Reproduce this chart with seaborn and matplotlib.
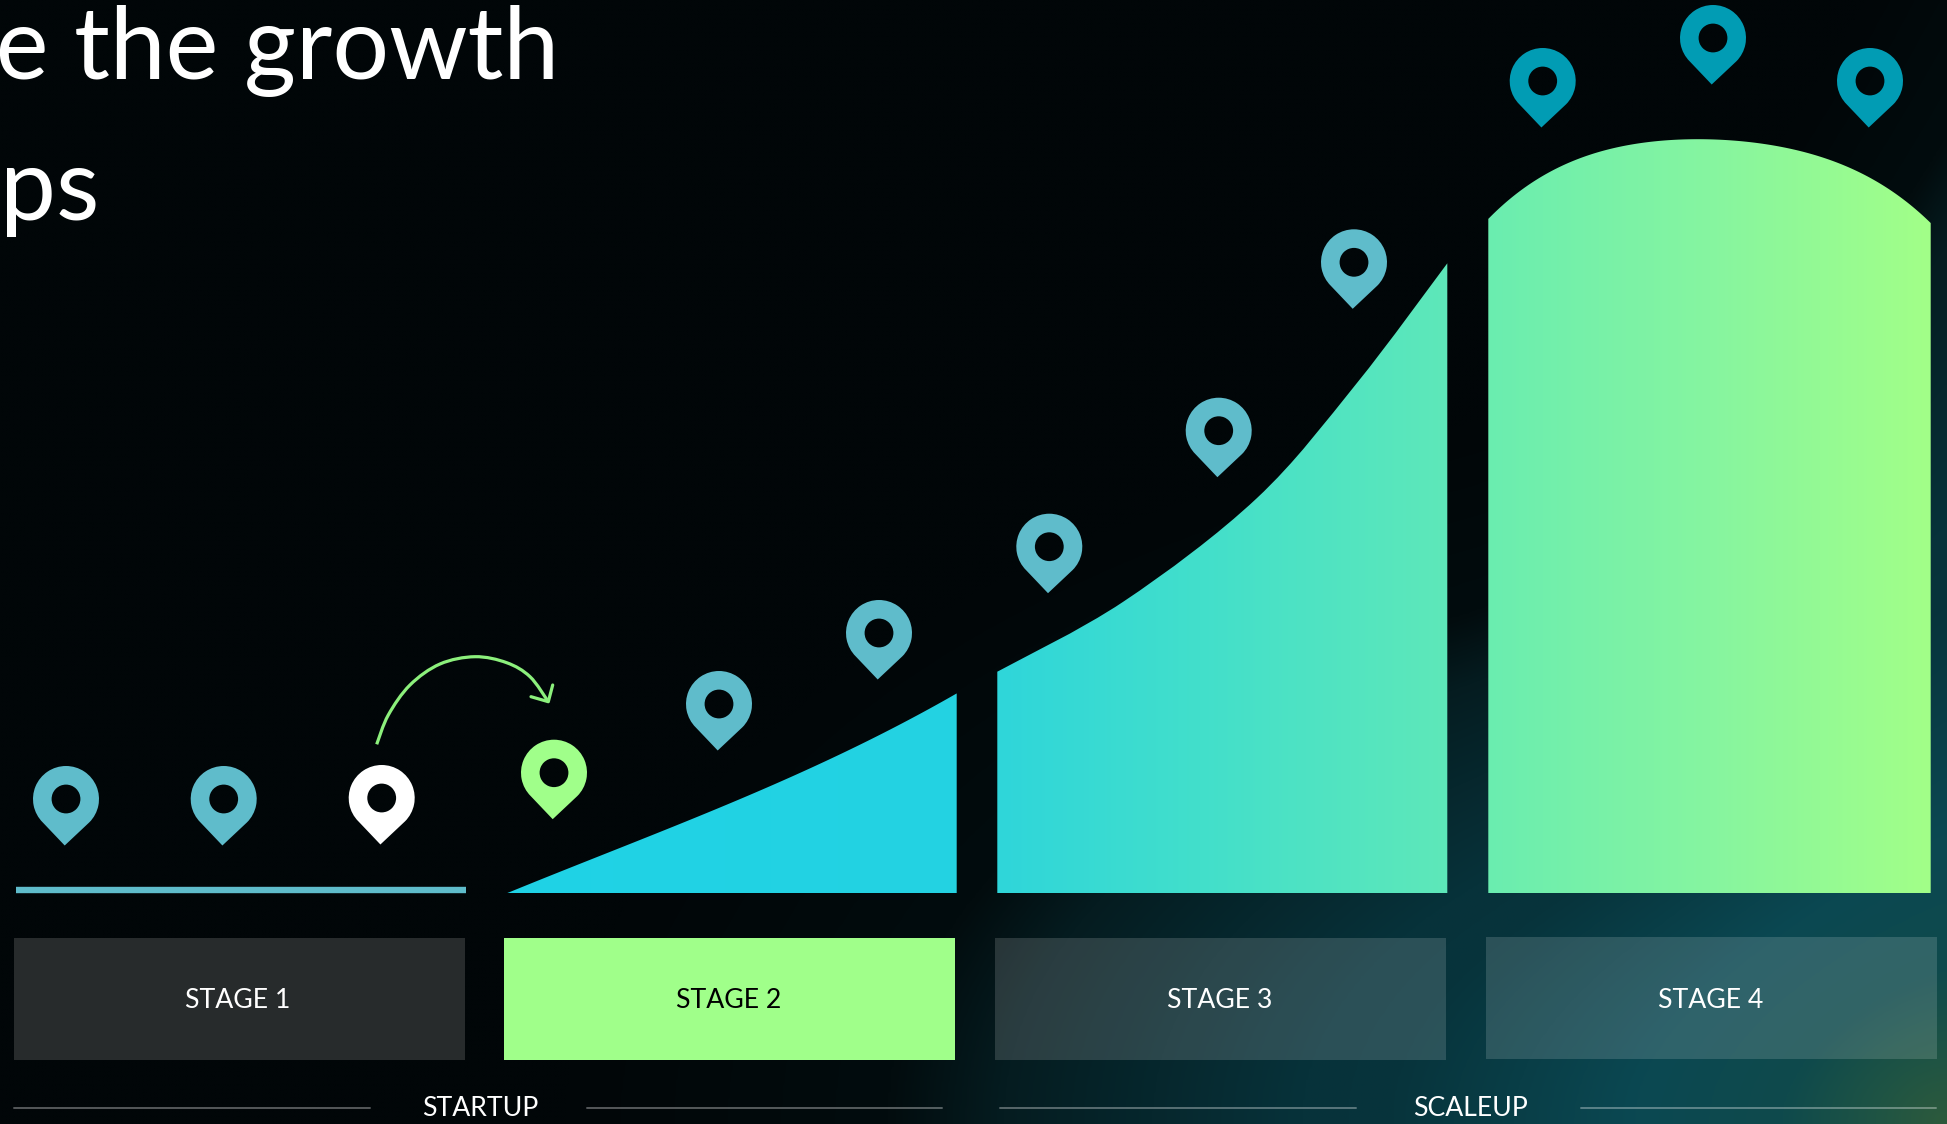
import numpy as np
import pandas as pd
import matplotlib
matplotlib.use("Agg")
import matplotlib.pyplot as plt
import seaborn as sns
from matplotlib.colors import LinearSegmentedColormap
from matplotlib.markers import MarkerStyle
from matplotlib.patches import PathPatch
from matplotlib.path import Path

# ---- values (pixel positions of the reference) ----
stage_labels = ["STAGE 1", "STAGE 2", "STAGE 3", "STAGE 4"]
box_left = [14, 504, 995, 1486]
box_right = [465, 955, 1446, 1937]
box_top = [938, 938, 938, 937]
box_bottom = [1060, 1060, 1060, 1059]
label_x = [238, 729, 1219.5, 1710.5]
label_y = [1000, 1000, 1000, 1000]
label_colors = ["white", "black", "white", "white"]
box_colors = ["#272B2C", "#A0FF8A", "#FFFFFF", "#FFFFFF"]
box_alpha = [1, 1, 0.15, 0.15]

baseline_y = 893
stage1_x = [16, 466]
stage1_y = [890, 890]

stage2_x = [507.3, 583.3, 666.7, 750, 833.3, 900, 956.7]
stage2_y = [893.3, 861.7, 830, 795, 756.7, 725, 693.3]
stage3_x = [997.3, 1123.3, 1256.7, 1356.7, 1447.3]
stage3_y = [671.7, 601.7, 498.3, 383.3, 263.3]
stage4_x = [1488.3, 1513.3, 1546.7, 1580, 1613.3, 1646.7, 1680, 1713.3, 1746.7, 1780, 1813.3, 1846.7, 1880, 1913.3, 1930.7]
stage4_y = [219.3, 196, 173.3, 157.7, 148, 142.7, 140.7, 140.3, 141, 145.7, 153.3, 166.7, 185, 208.3, 221.7]

pin_x = [66, 223.7, 381.7, 554, 719, 879, 1049.3, 1218.7, 1354, 1542.7, 1713, 1870]
pin_y = [799, 799, 798, 772.7, 704, 633, 546.7, 430.7, 262.3, 81, 38, 81]
pin_group = ["light", "light", "white", "green", "light", "light", "light", "light", "light", "dark", "dark", "dark"]
pin_palette = {"light": "#5FBCCB", "white": "#FFFFFF", "green": "#A0FF8A", "dark": "#019CB4"}

arrow_x = [376.7, 388.3, 410, 440, 475, 506.7, 530, 548.3]
arrow_y = [744.3, 715, 685, 664, 656.7, 662.7, 676.7, 701.7]
arrow_head_x = [552.7, 548.3, 531]
arrow_head_y = [685, 701.7, 696.7]

rule_segments = [(14, 370), (587, 942), (1000, 1356), (1581, 1936)]
rule_y = 1107.7
phase_labels = ["STARTUP", "SCALEUP"]
phase_x = [480, 1470]
phase_y = [1109, 1109]

title_lines = ["te the growth", "ps"]
title_right = [559, 99]
title_base = [79, 220]

# ---- styling stops ----
fill_stops = [(500, "#1FD2E6"), (950, "#24D3E2"), (1000, "#2FD6DA"), (1200, "#42DFCB"),
              (1447, "#5EE8B9"), (1488, "#6AEDB0"), (1710, "#86F5A0"), (1931, "#A2FF88")]
bg_stops = [(0.0, "#2D5A3C"), (0.06, "#1F5444"), (0.14, "#0F4A4C"), (0.27, "#0B4852"),
            (0.48, "#07343C"), (0.56, "#07323A"), (0.82, "#051C20"), (0.92, "#020C0E"),
            (1.2, "#010608"), (3.0, "#010608")]

W, H = 1947, 1124
sns.set_theme(style="white")
plt.rcParams["font.family"] = ["Lato", "DejaVu Sans"]

fig = plt.figure(figsize=(W / 100, H / 100), dpi=100)
ax = fig.add_axes([0, 0, 1, 1])
ax.set_axis_off()

# background glow
xx, yy = np.meshgrid(np.linspace(0, W, 600), np.linspace(0, H, 400))
dx = W - xx
dy = H - yy
fade = np.clip(1 - dx / 500, 0, 1) ** 2
dist = np.hypot(dx / 1150, dy / (620 + 450 * fade))
dmax = bg_stops[-1][0]
bg_cmap = LinearSegmentedColormap.from_list("bg", [(d / dmax, c) for d, c in bg_stops], N=2048)
ax.imshow(dist, cmap=bg_cmap, vmin=0, vmax=dmax, extent=(0, W, H, 0), aspect="auto",
          interpolation="bilinear", zorder=0)

# gradient shared by the areas
fx0, fx1 = fill_stops[0][0], fill_stops[-1][0]
fill_cmap = LinearSegmentedColormap.from_list(
    "fill", [((x - fx0) / (fx1 - fx0), c) for x, c in fill_stops], N=1024)


def smooth_path(xs, ys, close_to=None):
    p = np.column_stack([xs, ys]).astype(float)
    verts, codes = [p[0]], [Path.MOVETO]
    n = len(p)
    for i in range(n - 1):
        a = p[max(i - 1, 0)]
        b = p[min(i + 2, n - 1)]
        verts += [p[i] + (p[i + 1] - a) / 6, p[i + 1] - (b - p[i]) / 6, p[i + 1]]
        codes += [Path.CURVE4] * 3
    if close_to is not None:
        verts += [(xs[-1], close_to), (xs[0], close_to), p[0]]
        codes += [Path.LINETO, Path.LINETO, Path.CLOSEPOLY]
    return Path(np.array(verts), codes)


def fitted_path(xs, ys, degree, base):
    # least-squares outline through the values, to even out reading noise
    mid = np.mean(xs)
    coef = np.polyfit(np.array(xs) - mid, ys, degree)
    tx = np.linspace(xs[0], xs[-1], 240)
    ty = np.minimum(np.polyval(coef, tx - mid), base)
    verts = np.vstack([np.column_stack([tx, ty]), [[xs[-1], base], [xs[0], base], [tx[0], ty[0]]]])
    codes = [Path.MOVETO] + [Path.LINETO] * (len(verts) - 2) + [Path.CLOSEPOLY]
    return Path(verts, codes)


area_paths = [fitted_path(stage2_x, stage2_y, 3, baseline_y),
              smooth_path(stage3_x, stage3_y, baseline_y),
              fitted_path(stage4_x, stage4_y, 4, baseline_y)]
for area in area_paths:
    im = ax.imshow(np.linspace(0, 1, 1024)[None, :], cmap=fill_cmap, vmin=0, vmax=1,
                   extent=(fx0, fx1, H, 0), aspect="auto", zorder=2)
    patch = PathPatch(area, transform=ax.transData, facecolor="none", edgecolor="none")
    ax.add_patch(patch)
    im.set_clip_path(patch)

ax.set_xlim(0, W)
ax.set_ylim(H, 0)

# stage 1 flat line
sns.lineplot(x=stage1_x, y=stage1_y, ax=ax, color="#5FBCCB", linewidth=4.6,
             solid_capstyle="butt", estimator=None, sort=False, zorder=3)

# stage boxes
for i in range(4):
    ax.bar(box_left[i], box_bottom[i] - box_top[i], width=box_right[i] - box_left[i],
           bottom=box_top[i], align="edge", color=box_colors[i], alpha=box_alpha[i],
           linewidth=0, zorder=3)
    ax.text(label_x[i], label_y[i], stage_labels[i], color=label_colors[i], fontsize=19.2,
            ha="center", va="center", zorder=4)

# pins
outer = Path.arc(-45, 225)
o_v = np.vstack([outer.vertices * 33, [[-1.3, -46.5], [0, 0]]])
o_c = list(outer.codes) + [Path.LINETO, Path.CLOSEPOLY]
hole = Path.arc(0, 360)
pin_marker = Path.make_compound_path(Path(o_v, o_c), Path(hole.vertices[::-1] * 14.4, hole.codes))
pins = pd.DataFrame({"x": pin_x, "y": pin_y, "group": pin_group})
sns.scatterplot(data=pins, x="x", y="y", hue="group", palette=pin_palette, ax=ax,
                marker=MarkerStyle(pin_marker), s=(46.5 * 2 * 0.72) ** 2, linewidth=0,
                legend=False, zorder=5)

# arrow
ax.add_patch(PathPatch(smooth_path(arrow_x, arrow_y), facecolor="none", edgecolor="#8CF07C",
                       linewidth=2.3, capstyle="butt", zorder=5))
sns.lineplot(x=arrow_head_x, y=arrow_head_y, ax=ax, color="#8CF07C", linewidth=2.3,
             estimator=None, sort=False, zorder=5)

# bottom rules and phase labels
for x0, x1 in rule_segments:
    sns.lineplot(x=[x0, x1], y=[rule_y, rule_y], ax=ax, color="#FFFFFF", alpha=0.33,
                 linewidth=1.4, estimator=None, sort=False, zorder=3)
for name, x, y in zip(phase_labels, phase_x, phase_y):
    ax.text(x, y, name, color="white", fontsize=19.2, ha="center", va="center", zorder=4)

# cropped title
for line, x, y in zip(title_lines, title_right, title_base):
    ax.text(x, y, line, color="white", fontsize=72, fontweight="normal", ha="right",
            va="baseline", zorder=4)

ax.set_xlim(0, W)
ax.set_ylim(H, 0)
ax.set_xlabel("")
ax.set_ylabel("")
fig.savefig("out.png", dpi=100)
